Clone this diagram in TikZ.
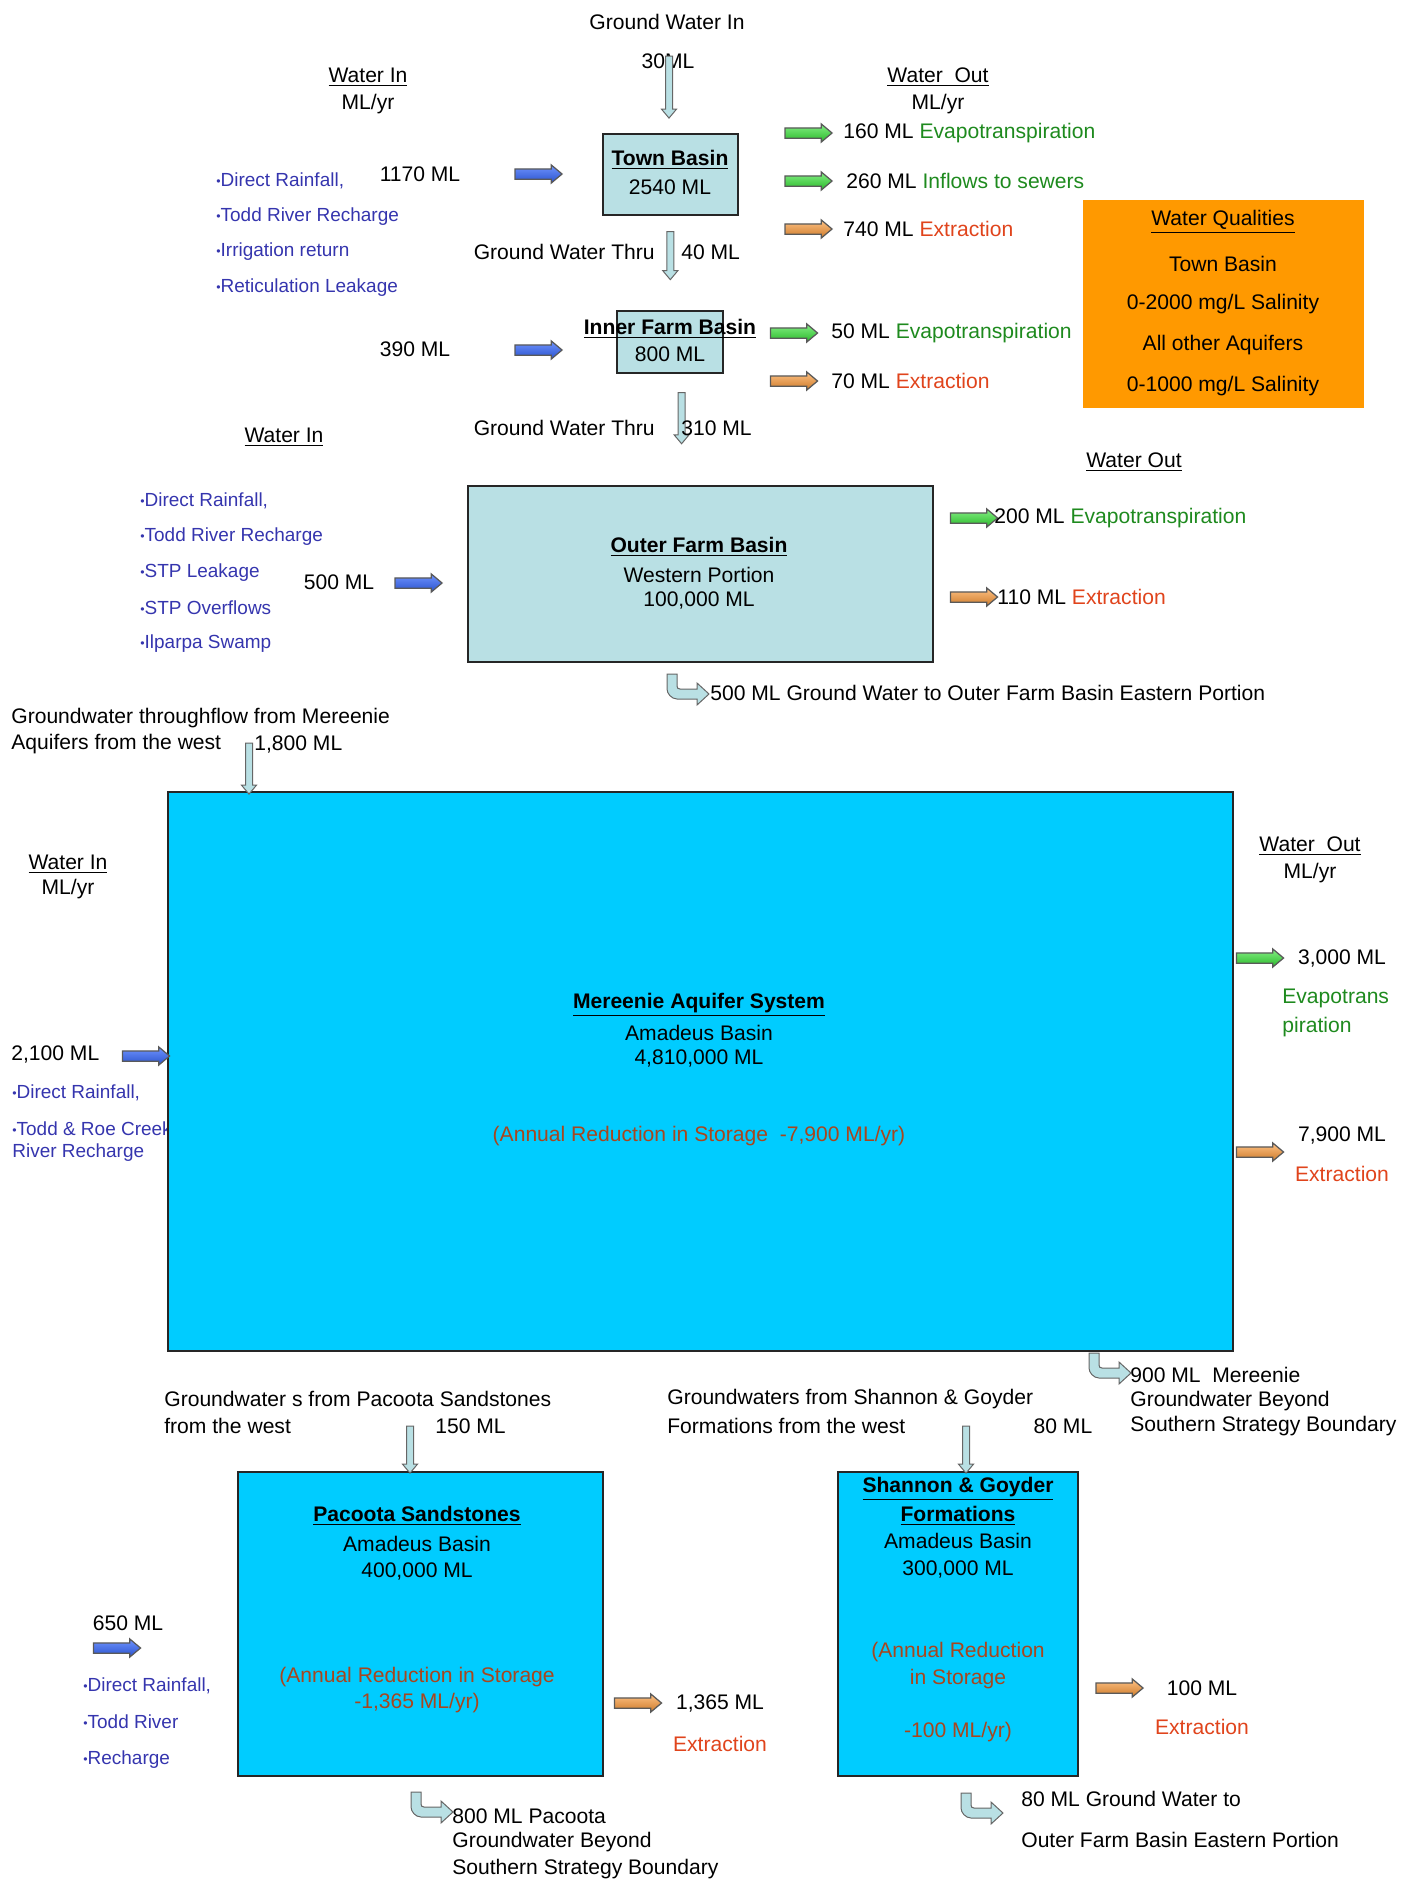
\documentclass[tikz,border=0pt]{standalone}
\usepackage{fontspec}
\setmainfont{Liberation Sans}
\usetikzlibrary{shapes.arrows, calc}
\definecolor{PoolBlue}{HTML}{B9E0E4}
\definecolor{AquiferBlue}{HTML}{00CCFF}
\definecolor{QualityOrange}{HTML}{FF9900}
\definecolor{SourceBlue}{HTML}{3535AE}
\definecolor{EvapGreen}{HTML}{1E8A1E}
\definecolor{ExtractRed}{HTML}{E0441C}
\definecolor{StorageBrown}{HTML}{A8461E}
\definecolor{InBlue}{HTML}{3366FF}
\definecolor{OutGreen}{HTML}{33E633}
\definecolor{OutOrange}{HTML}{FF9933}
\newcommand{\srcdot}{\raisebox{0.15ex}{\scriptsize •}}

\begin{document}
\begin{tikzpicture}[
    x=0.2mm, y=-0.2mm,
    font=\fontsize{12}{14}\selectfont,
    every node/.style={inner sep=0pt},
    pool/.style={draw=black!85, line width=0.35mm, fill=PoolBlue},
    aquifer/.style={draw=black!85, line width=0.3mm, fill=AquiferBlue},
    fat/.style={single arrow, draw=black!65, line width=0.25mm, inner xsep=0pt, inner ysep=0.9mm,
        minimum height=9.4mm, single arrow head extend=0.8mm, single arrow tip angle=80},
    inflow/.style={fat, top color=InBlue!70!white, bottom color=InBlue!80!black},
    evap/.style={fat, top color=OutGreen!60!white, bottom color=OutGreen!80!black},
    extract/.style={fat, top color=OutOrange!60!white, bottom color=OutOrange!80!black},
    seep/.style={single arrow, draw=black!60, line width=0.2mm, fill=PoolBlue,
        inner sep=0.6mm, single arrow head extend=0.8mm, single arrow tip angle=80,
        shape border rotate=270},
    src/.style={anchor=west, text=SourceBlue, font=\fontsize{10.8}{13}\selectfont},
    pics/bend/.style={code={
        \draw[black!60, line width=0.2mm, fill=PoolBlue]
            (-5,0) -- (5,0) -- (5,12) .. controls (5,14) and (6,15) .. (8,15) -- (25,15) -- (25,9)
            -- (37,20) -- (25,31) -- (25,25) -- (5,25) .. controls (-0.5,25) and (-5,19.5) .. (-5,15) -- cycle;
    }},
]
\useasboundingbox (0,0) rectangle (1407,1881);

% --- town basin ---
\node (gwin) at (667,22) {Ground Water In};
\node (gwin-v) at (668,61) {30ML};
\node[seep, minimum height=12.4mm] (gwin-a) at (669,85) {};
\node[pool, minimum width=27mm, minimum height=16.2mm] (town) at (670.5,174.5) {};
\node (town-t) at (670,160) {\textbf{\underline{Town Basin}}};
\node (town-v) at (670,187) {2540 ML};

\node (in1-h) at (368,77) {\underline{Water In}};
\node (in1-u) at (368,104) {ML/yr};
\foreach \y/\t [count=\i] in {181/{Direct Rainfall,}, 217/Todd River Recharge, 252/Irrigation return, 288/Reticulation Leakage}
    \node[src] (in1-s\i) at (216,\y) {\srcdot\t};
\node (in1-v) at (420,174) {1170 ML};
\node[inflow] (in1-a) at (535.5,174) {};

\node (out1-h) at (938,77) {\underline{Water~ Out}};
\node (out1-u) at (938,104) {ML/yr};
\node[evap] (out1-a1) at (805.5,133) {};
\node[anchor=west] (out1-t1) at (843,133) {160 ML \textcolor{EvapGreen}{Evapotranspiration}};
\node[evap] (out1-a2) at (805.5,181) {};
\node[anchor=west] (out1-t2) at (846,181) {260 ML \textcolor{EvapGreen}{Inflows to sewers}};
\node[extract] (out1-a3) at (805.5,229) {};
\node[anchor=west] (out1-t3) at (843,229) {740 ML \textcolor{ExtractRed}{Extraction}};

% --- inner farm basin ---
\node[pool, minimum width=21.2mm, minimum height=12.4mm] (inner) at (670,342) {};
\node (inner-t) at (670,329) {\textbf{\underline{Inner Farm Basin}}};
\node (inner-v) at (670,354) {800 ML};
\node[seep, minimum height=9.6mm] (thru1) at ($(town.south)!0.4!(inner.north)$) {};
\node[anchor=east] (thru1-t) at (655,252) {Ground Water Thru};
\node[anchor=west] (thru1-v) at (681,252) {40 ML};

\node (in2-v) at (415,349) {390 ML};
\node[inflow] (in2-a) at (535.5,350) {};
\node[evap] (out2-a1) at (791,333) {};
\node[anchor=west] (out2-t1) at (831,333) {50 ML \textcolor{EvapGreen}{Evapotranspiration}};
\node[extract] (out2-a2) at (791,381) {};
\node[anchor=west] (out2-t2) at (831,381) {70 ML \textcolor{ExtractRed}{Extraction}};

% nota de calidades
\node[fill=QualityOrange, minimum width=56.2mm, minimum height=41.6mm] (quality) at (1223.5,304) {};
\foreach \y/\t [count=\i] in {222/{\underline{Water Qualities}}, 264/Town Basin, 304/{0-2000 mg/L Salinity},
    345/All other Aquifers, 386/{0-1000 mg/L Salinity}}
    \node (quality-\i) at (1223,\y) {\t};

% --- outer farm basin ---
\node[pool, minimum width=93mm, minimum height=35.2mm] (outer) at (700.5,574) {};
\node (outer-t) at (699,547) {\textbf{\underline{Outer Farm Basin}}};
\node (outer-s) at (699,575) {Western Portion};
\node (outer-v) at (699,600) {100,000 ML};
\node[seep, minimum height=10.2mm] (thru2) at ($(inner.south)!0.38!(outer.north)$) {};
\node[anchor=east] (thru2-t) at (655,428) {Ground Water Thru};
\node[anchor=west] (thru2-v) at (681,428) {310 ML};

\node (in3-h) at (284,437) {\underline{Water In}};
\foreach \y/\t [count=\i] in {501/{Direct Rainfall,}, 537/Todd River Recharge, 573/STP Leakage, 608/STP Overflows, 644/Ilparpa Swamp}
    \node[src] (in3-s\i) at (140,\y) {\srcdot\t};
\node (in3-v) at (339,582) {500 ML};
\node[inflow] (in3-a) at (415.5,583) {};

\node (out3-h) at (1134,462) {\underline{Water Out}};
\node[evap] (out3-a1) at (971,518) {};
\node[anchor=west] (out3-t1) at (994,518) {200 ML \textcolor{EvapGreen}{Evapotranspiration}};
\node[extract] (out3-a2) at (971,597) {};
\node[anchor=west] (out3-t2) at (997,597) {110 ML \textcolor{ExtractRed}{Extraction}};
\pic at (672,674) {bend};
\node[anchor=west] (out3-t3) at (710,693) {500 ML Ground Water to Outer Farm Basin Eastern Portion};

% --- mereenie aquifer ---
\node[anchor=west] (mer-gw1) at (11,718) {Groundwater throughflow from Mereenie};
\node[anchor=west] (mer-gw2) at (11,744) {Aquifers from the west};
\node[anchor=west] (mer-gw-v) at (254,744) {1,800 ML};
\node (in4-h) at (68,864) {\underline{Water In}};
\node (in4-u) at (68,889) {ML/yr};
\node[anchor=west] (in4-v) at (11,1054) {2,100 ML};
\node[src] (in4-s1) at (12,1093) {\srcdot Direct Rainfall,};
\node[src] (in4-s2) at (12,1129) {\srcdot Todd \& Roe Creek};
\node[src] (in4-s3) at (12,1153) {River Recharge};

\node[aquifer, minimum width=213mm, minimum height=111.8mm] (mer) at (700.5,1071.5) {};
\node[seep, minimum height=10.2mm] (mer-gw-a) at (249,766.5) {};
\node[inflow] (in4-a) at (143,1056) {};
\node (mer-t) at (699,1005) {\textbf{\underline{Mereenie Aquifer System}}};
\node (mer-s) at (699,1033) {Amadeus Basin};
\node (mer-v) at (699,1058) {4,810,000 ML};
\node[text=StorageBrown] (mer-r) at (699,1136) {(Annual Reduction in Storage~ -7,900 ML/yr)};

\node (out4-h) at (1310,846) {\underline{Water~ Out}};
\node (out4-u) at (1310,873) {ML/yr};
\node[evap] (out4-a1) at (1257,958) {};
\node (out4-v1) at (1342,958) {3,000 ML};
\node[anchor=west, text=EvapGreen] (out4-t1a) at (1282,998) {Evapotrans};
\node[anchor=west, text=EvapGreen] (out4-t1b) at (1282,1027) {piration};
\node[extract] (out4-a2) at (1257,1152) {};
\node (out4-v2) at (1342,1135) {7,900 ML};
\node[text=ExtractRed] (out4-t2) at (1342,1174) {Extraction};
\pic at (1094,1353) {bend};
\node[anchor=west] (out4-t3a) at (1130,1375) {900 ML~ Mereenie};
\node[anchor=west] (out4-t3b) at (1130,1401) {Groundwater Beyond};
\node[anchor=west] (out4-t3c) at (1130,1426) {Southern Strategy Boundary};

% --- pacoota sandstones ---
\node[anchor=west] (pac-gw1) at (164,1399) {Groundwater s from Pacoota Sandstones};
\node[anchor=west] (pac-gw2) at (164,1426) {from the west};
\node[anchor=west] (pac-gw-v) at (435,1426) {150 ML};
\node[aquifer, minimum width=73mm, minimum height=60.8mm] (pac) at (420.5,1624) {};
\node[seep, minimum height=9.4mm] (pac-gw-a) at (410,1447.5) {};
\node (pac-t) at (417,1516) {\textbf{\underline{Pacoota Sandstones}}};
\node (pac-s) at (417,1544) {Amadeus Basin};
\node (pac-v) at (417,1571) {400,000 ML};
\node[text=StorageBrown] (pac-r1) at (417,1677) {(Annual Reduction in Storage};
\node[text=StorageBrown] (pac-r2) at (417,1703) {-1,365 ML/yr)};

\node (in5-v) at (128,1623) {650 ML};
\node[inflow] (in5-a) at (114,1648) {};
\foreach \y/\t [count=\i] in {1686/{Direct Rainfall,}, 1722/Todd River, 1760/Recharge}
    \node[src] (in5-s\i) at (83,\y) {\srcdot\t};
\node[extract] (out5-a) at (635,1703) {};
\node (out5-v) at (720,1703) {1,365 ML};
\node[text=ExtractRed] (out5-t) at (720,1744) {Extraction};
\pic at (416,1792) {bend};
\node[anchor=west] (out5-t3a) at (452,1816) {800 ML Pacoota};
\node[anchor=west] (out5-t3b) at (452,1842) {Groundwater Beyond};
\node[anchor=west] (out5-t3c) at (452,1869) {Southern Strategy Boundary};

% --- shannon & goyder ---
\node[anchor=west] (sha-gw1) at (667,1399) {Groundwaters from Shannon \& Goyder};
\node[anchor=west] (sha-gw2) at (667,1426) {Formations from the west};
\node (sha-gw-v) at (1063,1426) {80 ML};
\node[aquifer, minimum width=48mm, minimum height=60.8mm] (sha) at (958,1624) {};
\node[seep, minimum height=9.4mm] (sha-gw-a) at (966,1447.5) {};
\node (sha-t1) at (958,1489) {\textbf{\underline{Shannon \& Goyder}}};
\node (sha-t2) at (958,1516) {\textbf{\underline{Formations}}};
\node (sha-s) at (958,1541) {Amadeus Basin};
\node (sha-v) at (958,1569) {300,000 ML};
\node[text=StorageBrown] (sha-r1) at (958,1652) {(Annual Reduction};
\node[text=StorageBrown] (sha-r2) at (958,1679) {in Storage};
\node[text=StorageBrown] (sha-r3) at (958,1732) {-100 ML/yr)};

\node[extract] (out6-a) at (1116.5,1688) {};
\node (out6-v) at (1202,1688) {100 ML};
\node[text=ExtractRed] (out6-t) at (1202,1727) {Extraction};
\pic at (966,1793) {bend};
\node[anchor=west] (out6-t3a) at (1021,1799) {80 ML Ground Water to};
\node[anchor=west] (out6-t3b) at (1021,1840) {Outer Farm Basin Eastern Portion};

\end{tikzpicture}
\end{document}
